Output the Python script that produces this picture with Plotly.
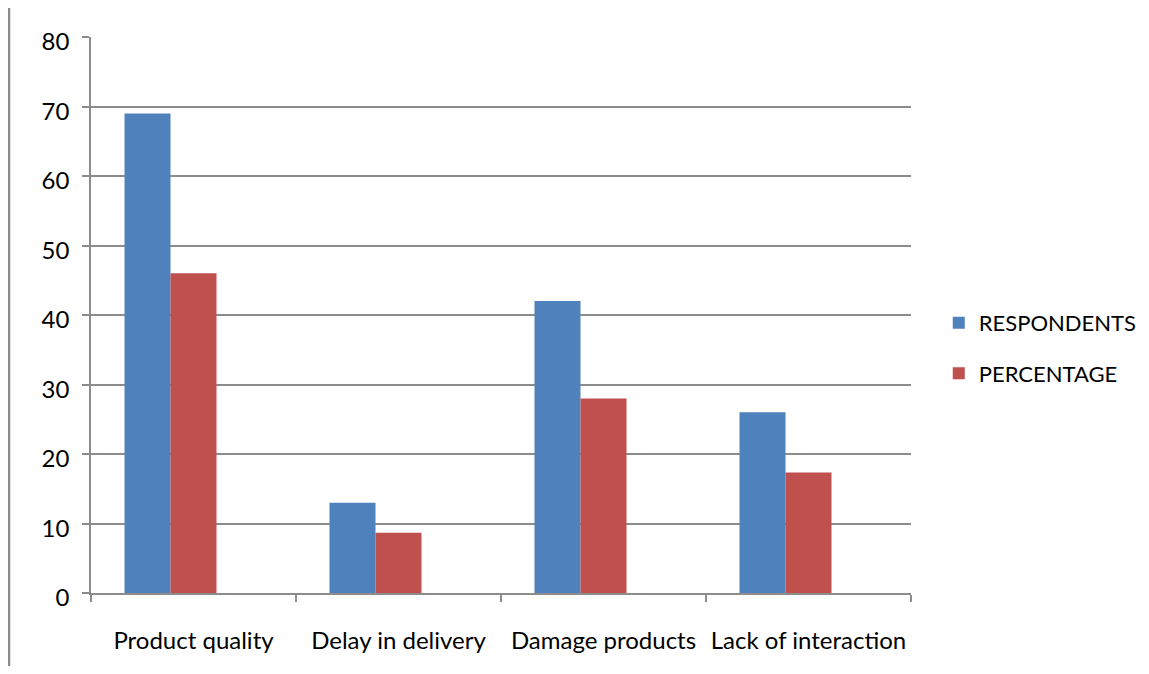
import plotly.graph_objects as go

categories = ["Product quality", "Delay in delivery", "Damage products", "Lack of interaction"]
respondents = [69, 13, 42, 26]
percentage = [46, 8.67, 28, 17.33]
y_ticks = [0, 10, 20, 30, 40, 50, 60, 70, 80]

BLUE = "#4F81BD"
RED = "#C0504D"
GRID = "#8C8C8C"
FONT = "Lato"

bw = 46 / 205.0

fig = go.Figure()
fig.add_trace(go.Bar(x=categories, y=respondents, name="RESPONDENTS",
                     marker=dict(color=BLUE, line=dict(width=0)),
                     width=bw, offset=-1.5 * bw, legendgroup="a"))
fig.add_trace(go.Bar(x=categories, y=percentage, name="PERCENTAGE",
                     marker=dict(color=RED, line=dict(width=0)),
                     width=bw, offset=-0.5 * bw, legendgroup="b"))

fig.update_layout(
    width=1133, height=658,
    margin=dict(l=83, r=230, t=29, b=73),
    paper_bgcolor="white", plot_bgcolor="white",
    font=dict(family=FONT, size=22, color="#000000"),
    barmode="overlay",
    showlegend=True,
    legend=dict(xref="container", x=0.8215, y=0.44, xanchor="left", yanchor="middle",
                traceorder="grouped", tracegroupgap=19,
                font=dict(family=FONT, size=22, color="#000000"),
                itemwidth=30, bgcolor="rgba(0,0,0,0)"),
    xaxis=dict(type="category", showgrid=False, showline=True, linecolor=GRID, linewidth=1.5,
               ticks="outside", tickson="boundaries", ticklen=7, tickcolor=GRID, tickwidth=1.5,
               tickfont=dict(family=FONT, size=24, color="#000000"),
               ticklabelstandoff=25, range=[-0.5, 3.5]),
    yaxis=dict(range=[0, 80], tickvals=y_ticks, ticktext=[str(v) for v in y_ticks],
               showgrid=True, gridcolor=GRID, gridwidth=1.5,
               showline=True, linecolor=GRID, linewidth=1.5,
               ticks="outside", ticklen=7, tickcolor=GRID, tickwidth=1.5,
               tickfont=dict(family=FONT, size=24, color="#000000"),
               ticklabelstandoff=8, ticklabelshift=5, zeroline=False),
)

fig.add_shape(type="line", xref="paper", yref="paper",
              x0=-0.1, x1=-0.1, y0=-0.2, y1=1.052,
              line=dict(color=GRID, width=2.5))

fig.write_html("out.html")
